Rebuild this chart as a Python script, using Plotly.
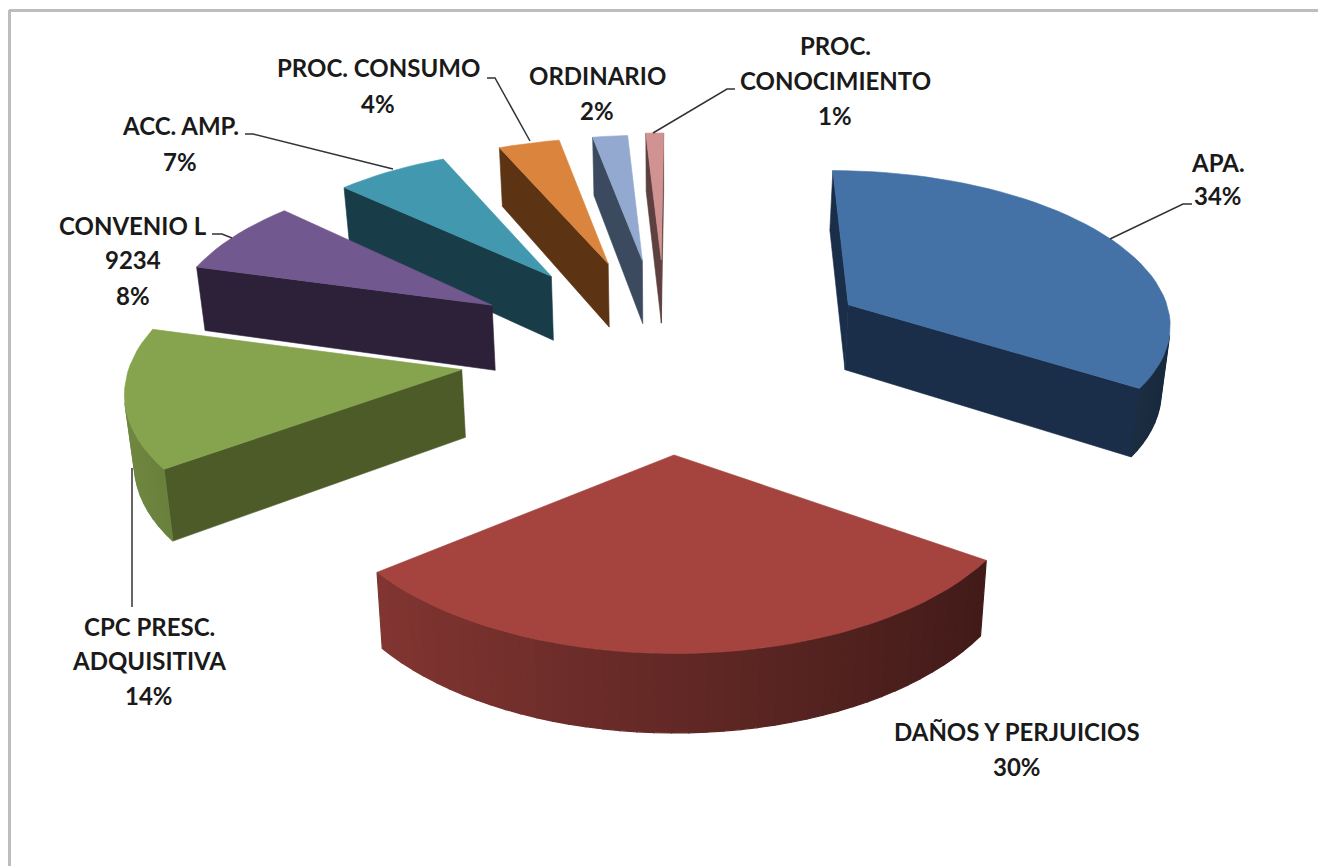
import math
import plotly.graph_objects as go

categories = ["APA.", "DAÑOS Y PERJUICIOS", "CPC PRESC. ADQUISITIVA", "CONVENIO L 9234",
              "ACC. AMP.", "PROC. CONSUMO", "ORDINARIO", "PROC. CONOCIMIENTO"]
percents = [34, 30, 14, 8, 7, 4, 2, 1]
top_colors = ["#4472A6", "#A5443F", "#86A34E", "#71588F", "#4298AF", "#DB843D", "#93A9CF", "#D19392"]
wall_colors = ["#1A2E4A", "#5A1F1C", "#4C5B28", "#2C2138", "#183D49", "#5C3413", "#3B4A5E", "#5E4040"]

# projection of the tilted, exploded pie
CX, YV, K, P, SX = 666.0, -1280.0, 1631.6, 0.0966, 333.0
EXPLODE, DEPTH, SHRINK, ROT = 0.617, 67.0, 0.018, 1.5
# small per-slice corrections of the view (degrees at slice start / end, radius, explosion factor)
START_ADJ = [-1.5, 0, 2, 3.2, 1.5, 0.1, -1.3, -1.1]
END_ADJ = [-1, 0, 2.7, 2.2, -0.5, -1.7, -1.3, -1.1]
RADIUS = [0.985, 1, 0.99, 0.985, 0.97, 0.97, 0.97, 0.985]
EXPLODE_F = [1.04, 1, 1, 1, 1, 1, 1, 1]


def hex_rgb(c):
    return [int(c[i:i + 2], 16) for i in (1, 3, 5)]


def shade(c, f):
    r, g, b = hex_rgb(c)
    return f"rgb({int(r * f)},{int(g * f)},{int(b * f)})"


def proj(x, y, low=False):
    w = 1 + P * y
    sx = CX + SX * x / w
    sy = YV + K / w
    if low:
        sx = CX + (sx - CX) * (1 - SHRINK)
        sy = sy + DEPTH / w
    return sx, sy


def poly(fig, pts, color, lw=0.6):
    xs = [p[0] for p in pts] + [pts[0][0]]
    ys = [p[1] for p in pts] + [pts[0][1]]
    fig.add_trace(go.Scatter(x=xs, y=ys, mode="lines", fill="toself", fillcolor=color,
                             line=dict(color=color, width=lw), hoverinfo="skip", showlegend=False))


def area(pts):
    s = 0
    for i in range(len(pts)):
        a, b = pts[i], pts[(i + 1) % len(pts)]
        s += a[0] * b[1] - b[0] * a[1]
    return s / 2


def wall(fig, p, q, color, lw=0.6):
    quad = [proj(*p), proj(*q), proj(*q, True), proj(*p, True)]
    if area(quad) < 0:
        poly(fig, quad, color, lw)


fig = go.Figure()

wedges = []
cum = 0
for i, v in enumerate(percents):
    a0 = math.radians(ROT + cum * 3.6 + START_ADJ[i])
    a1 = math.radians(ROT + (cum + v) * 3.6 + END_ADJ[i])
    cum += v
    mid = (a0 + a1) / 2
    e = EXPLODE * EXPLODE_F[i]
    apex = (e * math.sin(mid), e * math.cos(mid))
    n = max(3, int(v * 1.4))
    ang = [a0 + (a1 - a0) * j / n for j in range(n + 1)]
    arc = [(apex[0] + RADIUS[i] * math.sin(t), apex[1] + RADIUS[i] * math.cos(t)) for t in ang]
    wedges.append((i, apex, ang, arc))

# paint from the back of the pie to the front
for i, apex, ang, arc in sorted(wedges, key=lambda w: -w[1][1]):
    wall(fig, apex, arc[0], wall_colors[i])
    wall(fig, arc[-1], apex, wall_colors[i])
    for j in range(len(arc) - 1):
        s = math.sin((ang[j] + ang[j + 1]) / 2)
        wall(fig, arc[j], arc[j + 1], shade(top_colors[i], 0.60 - 0.24 * s), 1.2)
    poly(fig, [proj(*apex)] + [proj(*p) for p in arc], top_colors[i])

leader_lines = [
    [(1110, 239), (1183, 204), (1192, 204)],
    [(132, 468), (132, 607)],
    [(232, 238), (222, 234), (212, 234)],
    [(393, 169), (253, 134), (245, 134)],
    [(530, 141), (495, 78), (487, 78)],
    [(653, 133), (727, 89), (735, 89)],
]
for ln in leader_lines:
    fig.add_trace(go.Scatter(x=[p[0] for p in ln], y=[p[1] for p in ln], mode="lines",
                             line=dict(color="#333333", width=1.5), hoverinfo="skip", showlegend=False))

labels = [
    ("APA.", 1218, 162), ("34%", 1218, 195),
    ("DAÑOS Y PERJUICIOS", 1017, 731), ("30%", 1017, 766),
    ("CPC PRESC.", 149, 626), ("ADQUISITIVA", 149, 660), ("14%", 149, 695),
    ("CONVENIO L", 133, 225), ("9234", 133, 259), ("8%", 133, 295),
    ("ACC. AMP.", 180, 125), ("7%", 180, 161),
    ("PROC. CONSUMO", 378, 67), ("4%", 378, 103),
    ("ORDINARIO", 597, 75), ("2%", 597, 110),
    ("PROC.", 835, 45), ("CONOCIMIENTO", 835, 80), ("1%", 835, 115),
]
annotations = [dict(x=x, y=y, text=f"<b>{t}</b>", showarrow=False, xanchor="center", yanchor="middle",
                    font=dict(family="Lato", size=24, color="#1a1a1a")) for t, x, y in labels]

frame = [
    dict(type="line", x0=9, x1=1318, y0=10.5, y1=10.5, line=dict(color="#BDBDBD", width=3)),
    dict(type="line", x0=9.5, x1=9.5, y0=10, y1=866, line=dict(color="#BDBDBD", width=3)),
]

fig.update_layout(
    width=1318, height=866, margin=dict(l=0, r=0, t=0, b=0),
    paper_bgcolor="white", plot_bgcolor="white", showlegend=False,
    xaxis=dict(range=[0, 1318], visible=False, fixedrange=True),
    yaxis=dict(range=[866, 0], visible=False, fixedrange=True),
    annotations=annotations, shapes=frame,
)
fig.write_html("out.html", config={"displayModeBar": False},
               post_script="document.body.style.margin='0';document.body.style.overflow='hidden';")
